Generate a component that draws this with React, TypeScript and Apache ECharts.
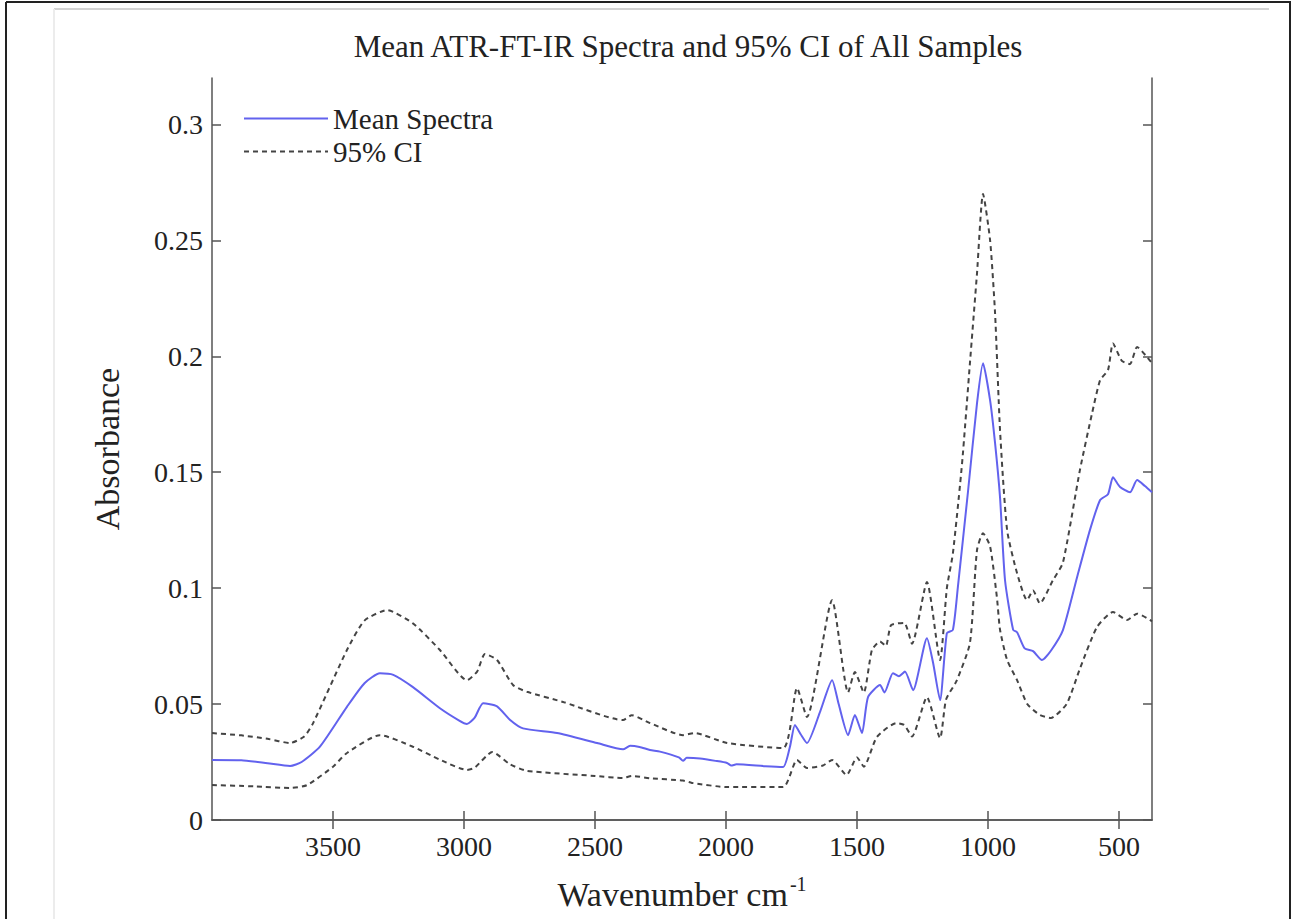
import React, { useEffect, useRef } from "react";
import * as echarts from "echarts";

// Wavenumber (cm^-1) and absorbance pairs
const meanWavenumbers = [3962, 3850, 3750, 3664, 3620, 3550, 3447, 3380, 3321, 3270, 3195, 3092, 3020, 2989, 2960, 2927, 2874, 2824, 2775, 2645, 2492, 2393, 2366, 2330, 2290, 2252, 2180, 2164, 2150, 2099, 2040, 1996, 1980, 1960, 1850, 1782, 1756, 1737, 1715, 1691, 1640, 1595, 1570, 1534, 1508, 1481, 1458, 1412, 1395, 1363, 1340, 1317, 1286, 1233, 1210, 1183, 1157, 1134, 1115, 1076, 1042, 1019, 992, 973, 954, 935, 904, 889, 860, 828, 794, 760, 714, 660, 611, 572, 542, 523, 496, 458, 431, 401, 374];
const meanValues = [0.0259, 0.0258, 0.0245, 0.0233, 0.025, 0.0316, 0.0488, 0.059, 0.0633, 0.0626, 0.0573, 0.0482, 0.043, 0.0414, 0.044, 0.0503, 0.049, 0.0431, 0.0395, 0.0375, 0.0332, 0.0305, 0.032, 0.0315, 0.0302, 0.0295, 0.027, 0.0255, 0.0268, 0.0265, 0.0255, 0.0246, 0.0235, 0.024, 0.0232, 0.0229, 0.0316, 0.041, 0.037, 0.0332, 0.047, 0.0603, 0.05, 0.0366, 0.0453, 0.0375, 0.053, 0.0582, 0.055, 0.0633, 0.062, 0.064, 0.056, 0.0784, 0.068, 0.0517, 0.0806, 0.082, 0.1004, 0.142, 0.1797, 0.197, 0.181, 0.1625, 0.139, 0.1034, 0.082, 0.081, 0.074, 0.0728, 0.069, 0.073, 0.0819, 0.1047, 0.125, 0.138, 0.1405, 0.1478, 0.1436, 0.1413, 0.1466, 0.144, 0.1413];

const upperWavenumbers = [3962, 3850, 3750, 3664, 3610, 3576, 3447, 3380, 3294, 3195, 3092, 2989, 2950, 2920, 2874, 2813, 2760, 2622, 2393, 2360, 2290, 2164, 2120, 1996, 1782, 1729, 1691, 1595, 1534, 1508, 1474, 1443, 1412, 1390, 1370, 1320, 1290, 1233, 1183, 1157, 1134, 1099, 1069, 1042, 1019, 992, 973, 954, 927, 889, 851, 828, 802, 752, 714, 649, 603, 572, 542, 523, 489, 458, 431, 393, 374];
const upperValues = [0.0375, 0.0365, 0.035, 0.0332, 0.036, 0.0418, 0.0733, 0.086, 0.0905, 0.0848, 0.0733, 0.0603, 0.064, 0.0716, 0.069, 0.0582, 0.0553, 0.0509, 0.0431, 0.0452, 0.0418, 0.0366, 0.0375, 0.0332, 0.031, 0.0569, 0.0444, 0.0948, 0.055, 0.0638, 0.055, 0.0733, 0.077, 0.075, 0.084, 0.085, 0.076, 0.1026, 0.069, 0.1, 0.115, 0.1538, 0.197, 0.2357, 0.27, 0.25, 0.2185, 0.168, 0.125, 0.1064, 0.0948, 0.099, 0.0934, 0.1034, 0.111, 0.151, 0.1753, 0.1897, 0.194, 0.2055, 0.198, 0.1966, 0.204, 0.1997, 0.197];

const lowerWavenumbers = [3962, 3800, 3664, 3600, 3500, 3447, 3321, 3195, 3092, 2989, 2960, 2892, 2824, 2760, 2500, 2393, 2360, 2290, 2164, 2130, 1996, 1782, 1729, 1691, 1630, 1595, 1540, 1500, 1474, 1424, 1350, 1320, 1290, 1233, 1183, 1160, 1120, 1069, 1042, 1019, 992, 966, 954, 927, 889, 850, 802, 760, 700, 650, 584, 523, 470, 431, 374];
const lowerValues = [0.0151, 0.0145, 0.0138, 0.015, 0.023, 0.0289, 0.0366, 0.0316, 0.026, 0.0216, 0.0225, 0.0293, 0.024, 0.0212, 0.019, 0.0181, 0.019, 0.018, 0.017, 0.016, 0.0142, 0.0142, 0.0259, 0.0224, 0.0235, 0.0259, 0.0194, 0.027, 0.023, 0.0358, 0.0418, 0.041, 0.036, 0.053, 0.0353, 0.052, 0.06, 0.0763, 0.1164, 0.1237, 0.118, 0.096, 0.082, 0.069, 0.0603, 0.05, 0.0453, 0.044, 0.05, 0.065, 0.0832, 0.0897, 0.0862, 0.089, 0.0857];

const xTicks = [3500, 3000, 2500, 2000, 1500, 1000, 500];
const yTicks = [0, 0.05, 0.1, 0.15, 0.2, 0.25, 0.3];

const pairs = (xs: number[], ys: number[]) => xs.map((x, i) => [x, ys[i]]);

const FONT = "'Liberation Serif', 'Times New Roman', serif";

export default function App() {
  const ref = useRef<HTMLDivElement>(null);
  useEffect(() => {
    if (!ref.current) return;
    const chart = echarts.init(ref.current, null, { renderer: "svg" });
    const axisLine = { show: true, lineStyle: { color: "#555", width: 1.5 } };
    const xBase = {
      type: "value" as const,
      min: 374,
      max: 3962,
      inverse: true,
      axisLine,
      splitLine: { show: false },
      axisTick: { inside: true, length: 9, customValues: xTicks, lineStyle: { color: "#555", width: 1.5 } },
    };
    const yBase = {
      type: "value" as const,
      min: 0,
      max: 0.32,
      axisLine,
      splitLine: { show: false },
      axisTick: { inside: true, length: 9, customValues: yTicks, lineStyle: { color: "#555", width: 1.5 } },
    };
    const lineCommon = { type: "line" as const, symbol: "none", smooth: 0.2 };
    chart.setOption({
      animation: false,
      backgroundColor: "#fff",
      textStyle: { fontFamily: FONT },
      title: {
        text: "Mean ATR-FT-IR Spectra and 95% CI of All Samples",
        left: 683,
        textAlign: "center",
        top: 26,
        textStyle: { fontFamily: FONT, fontSize: 31, fontWeight: "normal", color: "#222" },
      },
      legend: {
        orient: "vertical",
        left: 238,
        top: 99,
        itemWidth: 84,
        itemHeight: 14,
        itemGap: 4,
        itemStyle: { opacity: 0 },
        data: ["Mean Spectra", "95% CI"],
        textStyle: { fontFamily: FONT, fontSize: 29, color: "#222", padding: [0, 0, 0, 0] },
      },
      grid: { left: 212, right: 140, top: 78, bottom: 99 },
      xAxis: [
        {
          ...xBase,
          position: "bottom",
          name: "{a|Wavenumber cm}{b|-1}",
          nameLocation: "middle",
          nameGap: 54,
          nameTextStyle: {
            rich: {
              a: { fontFamily: FONT, fontSize: 34, color: "#222", lineHeight: 40 },
              b: { fontFamily: FONT, fontSize: 20, color: "#222", verticalAlign: "top", lineHeight: 40, padding: [0, 0, 18, 2] },
            },
          },
          axisLabel: { customValues: xTicks, margin: 12, fontFamily: FONT, fontSize: 28, color: "#222", formatter: (v: number) => String(v) },
        },
        {
          ...xBase,
          position: "top",
          axisLabel: { show: false },
        },
      ],
      yAxis: [
        {
          ...yBase,
          position: "left",
          name: "Absorbance",
          nameLocation: "middle",
          nameGap: 88,
          nameTextStyle: { fontFamily: FONT, fontSize: 34, color: "#222" },
          axisLabel: { customValues: yTicks, margin: 9, fontFamily: FONT, fontSize: 28, color: "#222", formatter: (v: number) => String(v) },
        },
        {
          ...yBase,
          position: "right",
          axisLabel: { show: false },
        },
      ],
      series: [
        {
          ...lineCommon,
          name: "Mean Spectra",
          data: pairs(meanWavenumbers, meanValues),
          lineStyle: { color: "#6262ee", width: 2 },
          itemStyle: { color: "#6262ee" },
        },
        {
          ...lineCommon,
          name: "95% CI",
          data: pairs(upperWavenumbers, upperValues),
          lineStyle: { color: "#444", width: 2, type: [5, 4] },
          itemStyle: { color: "#444" },
        },
        {
          ...lineCommon,
          name: "95% CI",
          data: pairs(lowerWavenumbers, lowerValues),
          lineStyle: { color: "#444", width: 2, type: [5, 4] },
          itemStyle: { color: "#444" },
        },
      ],
      graphic: [
        { type: "line", shape: { x1: 6, y1: 2, x2: 1291, y2: 2 }, style: { stroke: "#222", lineWidth: 2 } },
        { type: "line", shape: { x1: 6, y1: 2, x2: 6, y2: 919 }, style: { stroke: "#222", lineWidth: 2 } },
        { type: "line", shape: { x1: 1290, y1: 2, x2: 1290, y2: 919 }, style: { stroke: "#222", lineWidth: 2 } },
        { type: "line", shape: { x1: 54, y1: 9, x2: 1269, y2: 9 }, style: { stroke: "#d4d4d4", lineWidth: 2 } },
        { type: "line", shape: { x1: 54, y1: 9, x2: 54, y2: 919 }, style: { stroke: "#ececec", lineWidth: 2 } },
      ],
    });
    return () => chart.dispose();
  }, []);
  return (
    <div
      ref={ref}
      style={{ position: "fixed", left: 0, top: 0, width: 1292, height: 919, background: "#fff" }}
    />
  );
}
